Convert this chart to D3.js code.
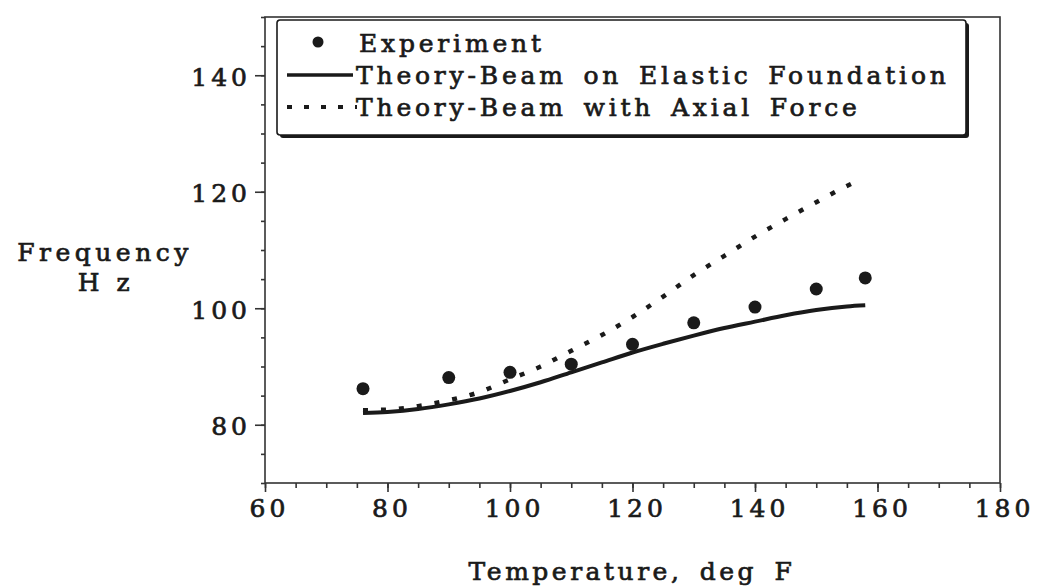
<!DOCTYPE html>
<html>
<head>
<meta charset="utf-8">
<script src="https://cdn.jsdelivr.net/npm/d3@7"></script>
<style>
	body { margin: 0; background: #fff; }
	svg text {
		font-family: "DejaVu Serif", "Liberation Serif", serif;
		fill: #1a1a1a;
		stroke: #1a1a1a;
		stroke-width: 0.7px;
	}
</style>
</head>
<body>
<svg id="chart_svg"></svg>
<script>
// measured frequencies
const expTemp = [76, 90, 100, 110, 120, 130, 140, 150, 158]
const expFreq = [86.2, 88.1, 89.0, 90.4, 93.8, 97.5, 100.2, 103.3, 105.2]

// beam on elastic foundation
const elasticTemp = [76, 80, 85, 90, 95, 100, 105, 110, 115, 120, 125, 130, 135, 140, 145, 150, 155, 158]
const elasticFreq = [82.0, 82.2, 82.7, 83.5, 84.5, 85.8, 87.3, 89.0, 90.7, 92.4, 93.9, 95.3, 96.6, 97.7, 98.8, 99.7, 100.3, 100.5]

// beam with axial force
const axialTemp = [76, 80, 85, 90, 95, 100, 105, 110, 115, 120, 125, 130, 135, 140, 145, 150, 155, 156]
const axialFreq = [82.5, 82.6, 83.2, 84.2, 85.6, 87.8, 90.0, 92.7, 95.4, 98.5, 102.0, 105.7, 109.0, 112.3, 115.3, 118.2, 121.0, 121.5]

const xTicks = [60, 80, 100, 120, 140, 160, 180]
const yTicks = [80, 100, 120, 140]
const legendLabels = ["Experiment", "Theory-Beam on Elastic Foundation", "Theory-Beam with Axial Force"]

const width = 1042, height = 587
const margin = { top: 17, right: 42, bottom: 104, left: 265 }

const svg = d3.select("#chart_svg")
	.attr("width", width)
	.attr("height", height)

const x = d3.scaleLinear()
	.domain([60, 180])
	.range([margin.left, width - margin.right])

const y = d3.scaleLinear()
	.domain([70, 150])
	.range([height - margin.bottom, margin.top])

const ink = "#1a1a1a"

// frame
svg.append("rect")
	.attr("x", x(60))
	.attr("y", y(150))
	.attr("width", x(180) - x(60))
	.attr("height", y(70) - y(150))
	.attr("fill", "none")
	.attr("stroke", "#333")
	.attr("stroke-width", 1.6)

// x axis: majors every 20, minors every 5
svg.append("g")
	.attr("transform", "translate(0," + y(70) + ")")
	.call(d3.axisBottom(x).tickValues(d3.range(60, 181, 5)).tickSize(5).tickFormat(""))
	.call(g => g.select(".domain").remove())
const xAxis = svg.append("g")
	.attr("transform", "translate(0," + y(70) + ")")
	.call(d3.axisBottom(x).tickValues(xTicks).tickSize(9).tickPadding(7).tickFormat(d3.format("d")))
xAxis.select(".domain").remove()
xAxis.selectAll("text")
	.attr("font-size", 25)
	.attr("letter-spacing", "4px")
	.attr("dx", 4)

// y axis
svg.append("g")
	.attr("transform", "translate(" + x(60) + ",0)")
	.call(d3.axisLeft(y).tickValues(d3.range(70, 151, 5)).tickSize(4).tickFormat(""))
	.call(g => g.select(".domain").remove())
const yAxis = svg.append("g")
	.attr("transform", "translate(" + x(60) + ",0)")
	.call(d3.axisLeft(y).tickValues(yTicks).tickSize(10).tickPadding(4).tickFormat(d3.format("d")))
yAxis.select(".domain").remove()
yAxis.selectAll("text")
	.attr("font-size", 25)
	.attr("letter-spacing", "4px")
	.attr("dy", "0.4em")

svg.selectAll(".tick line")
	.attr("stroke", "#333")
	.attr("stroke-width", 1.6)

// axis titles
svg.append("text")
	.attr("x", 632)
	.attr("y", 580)
	.attr("text-anchor", "middle")
	.attr("font-size", 25)
	.attr("letter-spacing", "3.5px")
	.attr("word-spacing", "6px")
	.text("Temperature, deg F")

svg.append("text")
	.attr("x", 105)
	.attr("y", 261)
	.attr("text-anchor", "middle")
	.attr("font-size", 25)
	.attr("letter-spacing", "4.5px")
	.text("Frequency")

svg.append("text")
	.attr("x", 106)
	.attr("y", 291)
	.attr("text-anchor", "middle")
	.attr("font-size", 25)
	.attr("letter-spacing", "4.5px")
	.text("H z")

// curves
const line = d3.line()
	.x(d => x(d[0]))
	.y(d => y(d[1]))
	.curve(d3.curveMonotoneX)

svg.append("path")
	.datum(d3.zip(elasticTemp, elasticFreq))
	.attr("d", line)
	.attr("fill", "none")
	.attr("stroke", ink)
	.attr("stroke-width", 4)

svg.append("path")
	.datum(d3.zip(axialTemp, axialFreq))
	.attr("d", line)
	.attr("fill", "none")
	.attr("stroke", ink)
	.attr("stroke-width", 4.5)
	.attr("stroke-dasharray", "5,13")

svg.selectAll(".exp")
	.data(d3.zip(expTemp, expFreq))
	.join("circle")
	.attr("class", "exp")
	.attr("cx", d => x(d[0]))
	.attr("cy", d => y(d[1]))
	.attr("r", 6.5)
	.attr("fill", ink)

// legend box with drop shadow
const lg = svg.append("g")
	.attr("transform", "translate(277,20)")
const lgW = 689, lgH = 115

lg.append("rect")
	.attr("x", 3)
	.attr("y", 3)
	.attr("width", lgW)
	.attr("height", lgH)
	.attr("rx", 3)
	.attr("fill", ink)
lg.append("rect")
	.attr("width", lgW)
	.attr("height", lgH)
	.attr("rx", 3)
	.attr("fill", "#fff")
	.attr("stroke", ink)
	.attr("stroke-width", 1.6)

const rowY = [23, 55, 87]

lg.append("circle")
	.attr("cx", 41)
	.attr("cy", rowY[0] - 1)
	.attr("r", 5.5)
	.attr("fill", ink)

lg.append("line")
	.attr("x1", 10)
	.attr("x2", 76)
	.attr("y1", rowY[1])
	.attr("y2", rowY[1])
	.attr("stroke", ink)
	.attr("stroke-width", 3.5)

lg.append("line")
	.attr("x1", 10)
	.attr("x2", 80)
	.attr("y1", rowY[2])
	.attr("y2", rowY[2])
	.attr("stroke", ink)
	.attr("stroke-width", 4)
	.attr("stroke-dasharray", "5,12")

lg.selectAll(".lg-text")
	.data(legendLabels)
	.join("text")
	.attr("class", "lg-text")
	.attr("x", (d, i) => i === 0 ? 82 : 79)
	.attr("y", (d, i) => rowY[i] + 9)
	.attr("font-size", 25)
	.attr("letter-spacing", "3.8px")
	.attr("word-spacing", "5px")
	.text(d => d)
</script>
</body>
</html>
